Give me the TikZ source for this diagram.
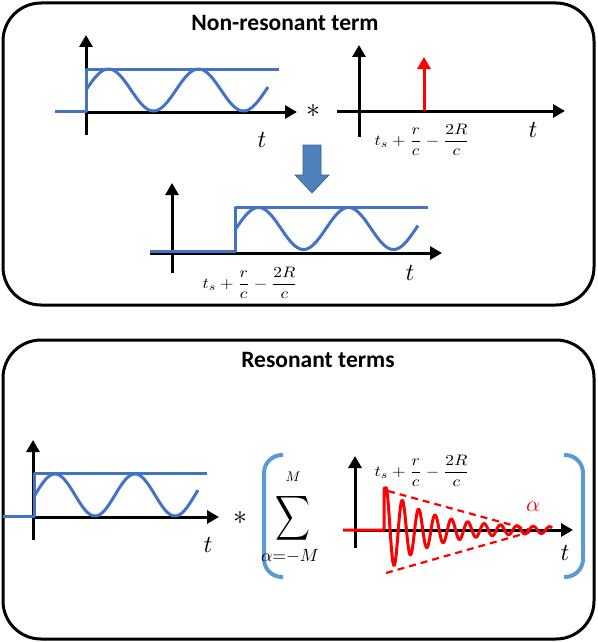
\documentclass[tikz,border=0pt]{standalone}
\usepackage{amsmath}
\usepackage{fontspec}
\setmainfont{Carlito}
\usepackage{graphicx}
\usetikzlibrary{arrows.meta}
\definecolor{sigblue}{RGB}{68,114,196}
\definecolor{brblue}{RGB}{91,155,213}
\definecolor{arrblue}{RGB}{79,129,189}
\definecolor{arredge}{RGB}{56,93,138}
\definecolor{sigred}{RGB}{255,0,0}
\newcommand{\tlab}{\resizebox*{!}{15pt}{$t$}}
\newcommand{\shiftlab}{\resizebox*{95pt}{31pt}{$\displaystyle t_s+\frac{r}{c}-\frac{2R}{c}$}}
\begin{document}
\begin{tikzpicture}[x=1pt,y=-1pt,
  frame/.style={draw=black,line width=3pt,rounded corners=38pt},
  axis/.style={draw=black,line width=3pt,-{Triangle[width=13pt,length=12pt]}},
  sig/.style={draw=sigblue,line width=3pt,line join=round},
  redsig/.style={draw=sigred,line width=3pt,line join=round},
  brk/.style={draw=brblue,line width=4pt,rounded corners=18pt},
  lbl/.style={inner sep=0pt},
  ttl/.style={inner sep=0pt,font=\bfseries\fontsize{23.5}{28}\selectfont},
  conv/.style={inner sep=0pt}]
\useasboundingbox (0,0) rectangle (597,642);
% frames
\draw[frame] (3,3) rectangle (594,305);
\draw[frame] (3,340) rectangle (594,639);
\node[ttl] (title1) at (285,23) {Non-resonant term};
\node[ttl] (title2) at (318,360) {Resonant terms};

% ---- top-left plot
\coordinate (A1b) at (86,135); \coordinate (A1t) at (86,35);
\coordinate (A1l) at (86,112); \coordinate (A1r) at (297,112);
\draw[axis] (A1b) -- (A1t);
\draw[axis] (A1l) -- (A1r);
\draw[sig] (55,111) -- (86,111) -- (86,69) -- (279,69);
\draw[sig,domain=87:268,samples=120] plot (\x,{90-21*sin(4*(\x-86))});
\node[lbl] (t1) at (262,140) {\tlab};

% ---- convolution star + impulse
\node[conv] (star1) at (313,111) {\resizebox{14pt}{!}{$\ast$}};
\coordinate (A2b) at (359,137); \coordinate (A2t) at (359,45);
\coordinate (A2l) at (337,111); \coordinate (A2r) at (565,111);
\draw[axis] (A2b) -- (A2t);
\draw[axis] (A2l) -- (A2r);
\coordinate (I0) at (424,111); \coordinate (I1) at (424,57);
\draw[draw=sigred,line width=3pt,-{Triangle[width=13pt,length=12pt]}] (I0) -- (I1);
\node[lbl] (lab1) at (422,140) {\shiftlab};
\node[lbl] (t2) at (533,130) {\tlab};

% ---- big blue arrow
\filldraw[fill=arrblue,draw=arredge,line width=0.6pt]
  (303,145) -- (321,145) -- (321,175) -- (329,175) -- (312,193) -- (295,175) -- (303,175) -- cycle;

% ---- middle plot
\coordinate (A3b) at (172,273); \coordinate (A3t) at (172,183);
\coordinate (A3l) at (150,253); \coordinate (A3r) at (442,253);
\draw[axis] (A3b) -- (A3t);
\draw[axis] (A3l) -- (A3r);
\draw[sig] (150,251) -- (235,251) -- (235,207) -- (428,207);
\draw[sig,domain=236:418,samples=120] plot (\x,{228.5-21*sin(4*(\x-236))});
\node[lbl] (lab2) at (250,283) {\shiftlab};
\node[lbl] (t3) at (410,273) {\tlab};

% ---- bottom-left plot
\coordinate (A4b) at (33,540); \coordinate (A4t) at (33,440);
\coordinate (A4l) at (33,517); \coordinate (A4r) at (219,517);
\draw[axis] (A4b) -- (A4t);
\draw[axis] (A4l) -- (A4r);
\draw[sig] (3,516) -- (34,516) -- (34,473) -- (207,473);
\draw[sig,domain=35:198,samples=120] plot (\x,{495-21*sin(4.5*(\x-35))});
\node[lbl] (t4) at (208,545) {\tlab};
\node[conv] (star2) at (240,518) {\resizebox{14pt}{!}{$\ast$}};

% ---- brackets
\draw[brk] (283,455) -- (264,455) -- (264,577) -- (283,577);
\draw[brk] (564,455) -- (583,455) -- (583,577) -- (564,577);

% ---- sum
\node[inner sep=0pt] (sum) at (293,518) {\resizebox*{35pt}{50pt}{$\displaystyle\sum$}};
\node[lbl] (sumtop) at (293,477) {\resizebox{15pt}{!}{$M$}};
\node[lbl] (sumbot) at (290,556) {\resizebox{58pt}{!}{$\alpha{=}{-}M$}};

% ---- red resonant plot
\coordinate (A5b) at (355,548); \coordinate (A5t) at (355,456);
\coordinate (A5l) at (355,530); \coordinate (A5r) at (573,530);
\draw[axis] (A5b) -- (A5t);
\draw[axis] (A5l) -- (A5r);
\draw[redsig,line width=2.2pt,dash pattern=on 7pt off 5pt] (388,491) -- (530,530);
\draw[redsig,line width=2.2pt,dash pattern=on 7pt off 5pt] (386,573) -- (530,532);
\draw[redsig] (343,530) -- (384,530) -- (384,488) -- (386,488)
  -- plot[domain=386:552,samples=500] (\x,{530-(40*exp(-(\x-386)/42)+2.5)*cos(22*(\x-386))});
\node[lbl] (lab3) at (422,471) {\shiftlab};
\node[lbl] (alpha) at (533,507) {\resizebox{14pt}{!}{\color{sigred}$\alpha$}};
\node[lbl] (t5) at (565,553) {\tlab};
\end{tikzpicture}
\end{document}
